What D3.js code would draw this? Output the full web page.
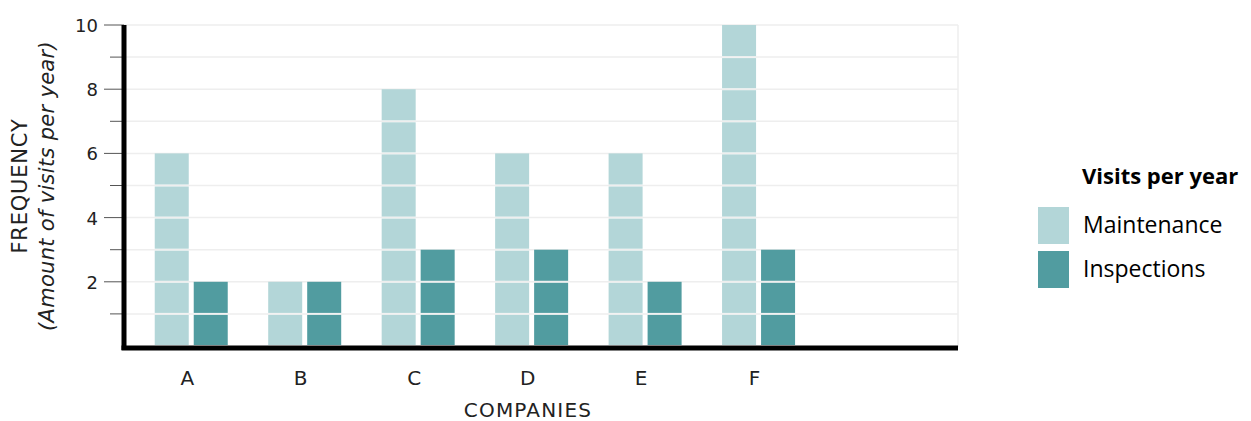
<!DOCTYPE html>
<html>
<head>
<meta charset="utf-8">
<script src="https://cdn.jsdelivr.net/npm/d3@7"></script>
<style>
  html, body { margin: 0; padding: 0; background: #fff; }
  svg { display: block; }
</style>
</head>
<body>
<svg id="chart" width="1251" height="421"></svg>
<script>
const categories = ["A", "B", "C", "D", "E", "F"];
const seriesNames = ["Maintenance", "Inspections"];
const maintenance = [6, 2, 8, 6, 6, 10];
const inspections = [2, 2, 3, 3, 2, 3];
const yTickValues = [2, 4, 6, 8, 10];
const yMinorTicks = [1, 3, 5, 7, 9];
const colors = ["#b3d6d8", "#519ca0"];

const svg = d3.select("#chart");
const plotLeft = 124, plotRight = 958, plotTop = 25, plotBottom = 347;
const axisFont = "'DejaVu Sans', sans-serif";

const y = d3.scaleLinear().domain([0, 10]).range([plotBottom - 1, plotTop]);
const x0 = d3.scaleBand().domain(categories).range([134.5, 815.3]).padding(0);
const groupW = 73;
const x1 = d3.scaleBand().domain(seriesNames)
  .range([(x0.step() - groupW) / 2, (x0.step() + groupW) / 2])
  .paddingInner(0.128).paddingOuter(0);

// gridlines
const gridVals = d3.range(1, 11);
svg.append("g").selectAll("line").data(gridVals).join("line")
  .attr("x1", plotLeft).attr("x2", plotRight)
  .attr("y1", d => y(d)).attr("y2", d => y(d))
  .attr("stroke", "#eeeeee").attr("stroke-width", 1.5);
svg.append("line")
  .attr("x1", plotRight).attr("x2", plotRight)
  .attr("y1", y(10)).attr("y2", plotBottom)
  .attr("stroke", "#eeeeee").attr("stroke-width", 1.5);

// bars as unit blocks
const data = categories.map((c, i) => ({ cat: c, vals: [maintenance[i], inspections[i]] }));
const groups = svg.append("g").selectAll("g").data(data).join("g")
  .attr("transform", d => `translate(${x0(d.cat)},0)`);
groups.each(function(d) {
  const g = d3.select(this);
  seriesNames.forEach((s, si) => {
    const v = d.vals[si];
    const blocks = d3.range(1, v + 1);
    g.selectAll(null).data(blocks).join("rect")
      .attr("x", x1(s))
      .attr("width", x1.bandwidth())
      .attr("y", k => y(k) + (k === v ? 0 : 1))
      .attr("height", k => (y(k - 1) - 1) - (y(k) + (k === v ? 0 : 1)))
      .attr("fill", colors[si]);
  });
});

// y axis ticks
const tickG = svg.append("g");
tickG.selectAll(".maj").data(yTickValues).join("line")
  .attr("x1", plotLeft - 20).attr("x2", plotLeft)
  .attr("y1", d => y(d)).attr("y2", d => y(d))
  .attr("stroke", "#555").attr("stroke-width", 1);
tickG.selectAll(".min").data(yMinorTicks).join("line")
  .attr("x1", plotLeft - 14).attr("x2", plotLeft)
  .attr("y1", d => y(d)).attr("y2", d => y(d))
  .attr("stroke", "#555").attr("stroke-width", 1);
tickG.selectAll("text").data(yTickValues).join("text")
  .attr("x", 98).attr("y", d => y(d) + 7)
  .attr("text-anchor", "end")
  .attr("font-family", axisFont).attr("font-size", 18)
  .attr("fill", "#222")
  .text(d => d);

// axis lines
svg.append("line").attr("x1", plotLeft).attr("x2", plotLeft)
  .attr("y1", plotTop).attr("y2", plotBottom + 3)
  .attr("stroke", "#000").attr("stroke-width", 5);
svg.append("line").attr("x1", plotLeft - 2.5).attr("x2", plotRight)
  .attr("y1", plotBottom + 1).attr("y2", plotBottom + 1)
  .attr("stroke", "#000").attr("stroke-width", 5);

// x labels
svg.append("g").selectAll("text").data(categories).join("text")
  .attr("x", d => x0(d) + x0.step() / 2 - 4)
  .attr("y", 385)
  .attr("text-anchor", "middle")
  .attr("font-family", axisFont).attr("font-size", 20)
  .attr("fill", "#222")
  .text(d => d);

svg.append("text")
  .attr("x", 528).attr("y", 417)
  .attr("text-anchor", "middle")
  .attr("font-family", axisFont).attr("font-size", 20)
  .attr("fill", "#222")
  .attr("letter-spacing", 1.2)
  .text("COMPANIES");

// y title
const yt = svg.append("text")
  .attr("transform", "translate(0,186) rotate(-90)")
  .attr("text-anchor", "middle")
  .attr("font-family", axisFont).attr("font-size", 21)
  .attr("fill", "#222");
yt.append("tspan").attr("x", 0).attr("y", 27).attr("letter-spacing", 0.8).text("FREQUENCY");
yt.append("tspan").attr("x", 0).attr("y", 54).attr("font-style", "italic").attr("letter-spacing", 0.3).text("(Amount of visits per year)");

// legend
const legFont = "'Open Sans', sans-serif";
svg.append("text").attr("x", 1082).attr("y", 184)
  .attr("font-family", legFont).attr("font-size", 22).attr("font-weight", "bold")
  .attr("fill", "#000").text("Visits per year");
const leg = svg.append("g").selectAll("g").data(seriesNames).join("g")
  .attr("transform", (d, i) => `translate(1038,${207 + i * 44})`);
leg.append("rect").attr("width", 31).attr("height", 37).attr("fill", (d, i) => colors[i]);
leg.append("text").attr("x", 45).attr("y", 26)
  .attr("font-family", legFont).attr("font-size", 23)
  .attr("fill", "#000").text(d => d);
</script>
</body>
</html>
